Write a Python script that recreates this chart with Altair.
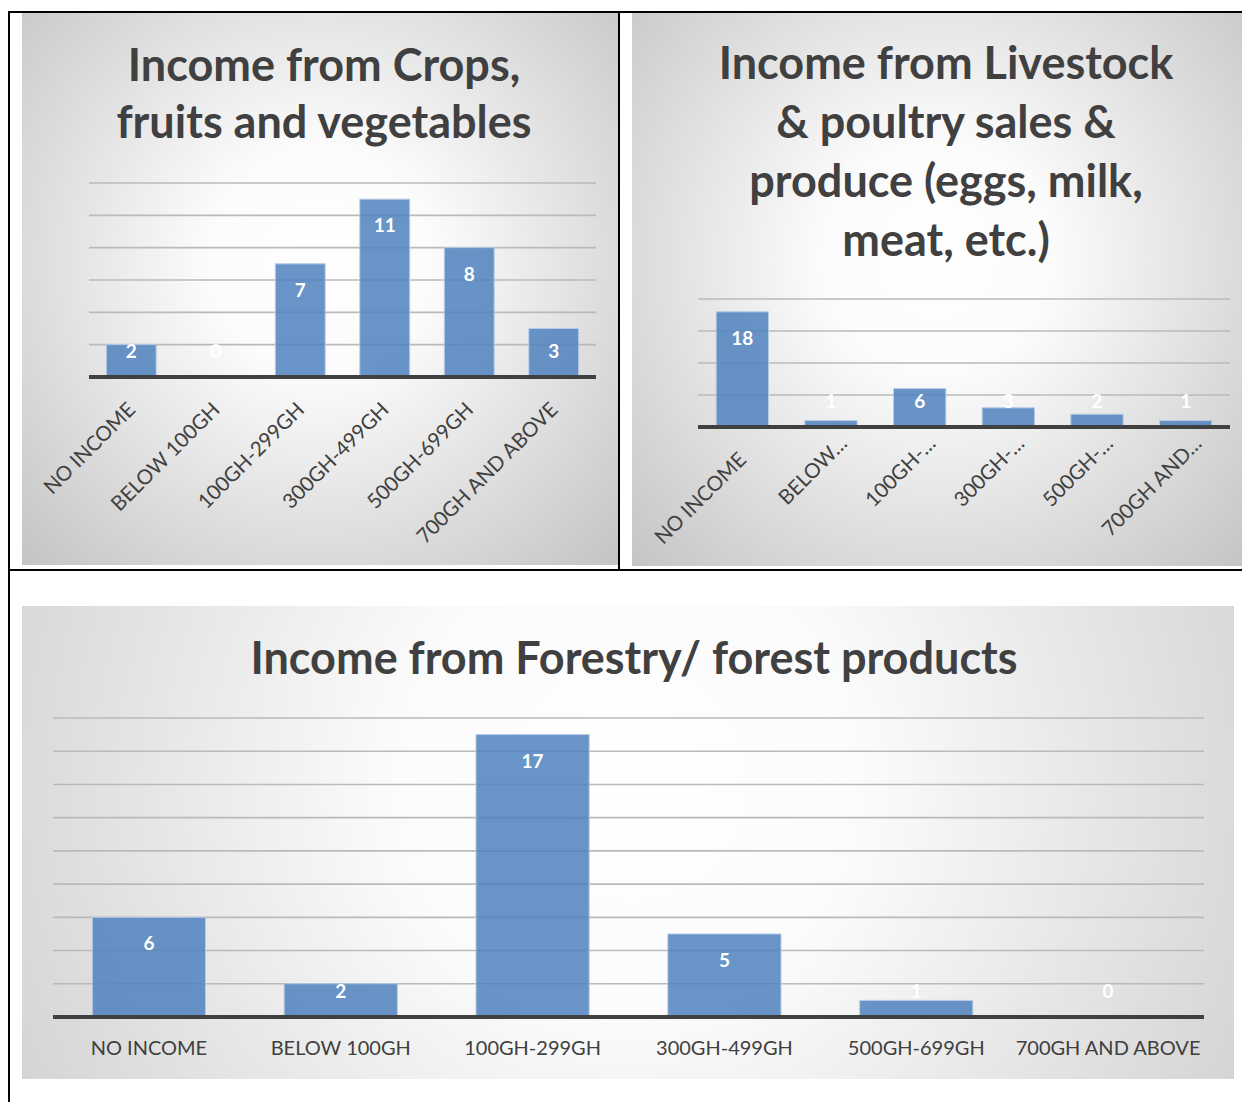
import altair as alt
import pandas as pd

# ---------------- data ----------------
CATEGORIES = ["NO INCOME", "BELOW 100GH", "100GH-299GH", "300GH-499GH",
              "500GH-699GH", "700GH AND ABOVE"]
CROPS_VALUES = [2, 0, 7, 11, 8, 3]
LIVESTOCK_VALUES = [18, 1, 6, 3, 2, 1]
FORESTRY_VALUES = [6, 2, 17, 5, 1, 0]

LIVESTOCK_TICK_LABELS = ["NO INCOME", "BELOW…", "100GH-…", "300GH-…",
                         "500GH-…", "700GH AND…"]

CROPS_GRID = [2, 4, 6, 8, 10, 12]
LIVESTOCK_GRID = [5, 10, 15, 20]
FORESTRY_GRID = [2, 4, 6, 8, 10, 12, 14, 16, 18]

CROPS_TITLE = ["Income from Crops,", "fruits and vegetables"]
LIVESTOCK_TITLE = ["Income from Livestock", "& poultry sales &",
                   "produce (eggs, milk,", "meat, etc.)"]
FORESTRY_TITLE = ["Income from Forestry/ forest products"]

# ---------------- style ----------------
FONT = "Lato"
TEXT = "#404040"
BAR_FILL = "#4F81BD"
GRAD = alt.RadialGradient(
    gradient="radial",
    x1=0.5, y1=0.45, r1=0, x2=0.5, y2=0.45, r2=0.78,
    stops=[alt.GradientStop(offset=0, color="#ffffff"),
           alt.GradientStop(offset=0.25, color="#fbfbfb"),
           alt.GradientStop(offset=1, color="#bdbdbd")],
)
ONE = pd.DataFrame({"z": [0]})


def panel(values, grid, title_lines, ymax, w, h, origin, plot_x, plot_y,
          cell, gray, borders, title_cx, title_y0, title_dy, angle,
          tick_labels=None, lab_pad=22, lab_off=-6):
    """origin: page position of this panel's group origin.
    plot_x / plot_y: page extents of the category band / value range."""
    ox, oy = origin
    df = pd.DataFrame({"cat": CATEGORIES, "val": values})
    gdf = pd.DataFrame({"g": grid})
    k = (plot_y[1] - plot_y[0]) / ymax

    def box(x0, y0, x1, y1, fill):
        return alt.Chart(ONE).mark_rect(fill=fill, strokeWidth=0).encode(
            x=alt.value(x0 - ox), x2=alt.value(x1 - ox),
            y=alt.value(y0 - oy), y2=alt.value(y1 - oy))

    extra = {}
    if tick_labels is not None:
        expr = "datum.value"
        for c, t in zip(CATEGORIES, tick_labels):
            expr = f"datum.value === '{c}' ? '{t}' : (" + expr + ")"
        extra["labelExpr"] = expr
        # truncated labels sit a little further up and right in the original
        test = "datum.value !== '" + CATEGORIES[0] + "'"
        lab_pad = {"condition": {"test": test, "value": lab_pad - 16}, "value": lab_pad}
        lab_off = {"condition": {"test": test, "value": lab_off + 12}, "value": lab_off}

    if angle == 0:
        ax = alt.Axis(title=None, ticks=False, tickSize=0, domain=False,
                      labelAngle=0, labelAlign="center", labelBaseline="top",
                      labelPadding=21, labelFont=FONT, labelFontSize=20,
                      labelColor=TEXT, labelLimit=400, labelOverlap=False,
                      zindex=1, grid=False, **extra)
    else:
        ax = alt.Axis(title=None, ticks=False, tickSize=0, domain=False,
                      labelAngle=angle, labelAlign="right", labelBaseline="top",
                      labelPadding=lab_pad, labelOffset=lab_off, labelFont=FONT,
                      labelFontSize=20.5, labelColor=TEXT, labelLimit=400,
                      labelOverlap=False, zindex=1, grid=False, **extra)

    X = alt.X("cat:N", sort=CATEGORIES, axis=ax,
              scale=alt.Scale(range=[plot_x[0] - ox, plot_x[1] - ox],
                              paddingInner=0.41, paddingOuter=0.205))
    yscale = alt.Scale(domain=[0, ymax], nice=False, zero=True,
                       range=[plot_y[1] - oy, plot_y[0] - oy])

    layers = [box(*cell, "#ffffff"), box(*gray, GRAD)]
    for b in borders:
        layers.append(box(*b, "#000000"))

    layers.append(alt.Chart(gdf).mark_rule(color="#bababa", strokeWidth=1.6).encode(
        x=alt.value(plot_x[0] - ox), x2=alt.value(plot_x[1] - ox),
        y=alt.Y("g:Q", scale=yscale, axis=None)))
    layers.append(alt.Chart(df).mark_bar(
        fill=BAR_FILL, fillOpacity=0.85, stroke="#b7cbe6", strokeWidth=1).encode(
        x=X, y=alt.Y("val:Q", scale=yscale, axis=None)))
    layers.append(alt.Chart(ONE).mark_rule(color="#404040", strokeWidth=4).encode(
        x=alt.value(plot_x[0] - ox), x2=alt.value(plot_x[1] - ox),
        y=alt.Y("z:Q", scale=yscale, axis=None)))
    layers.append(alt.Chart(df).transform_calculate(
        lab=f"max(datum.val - {27 / k:.4f}, {25 / k:.4f})").mark_text(
        font=FONT, fontWeight="bold", fontSize=19, color="#ffffff",
        baseline="middle", align="center").encode(
        x=X, y=alt.Y("lab:Q", scale=yscale, axis=None), text="val:Q"))

    for i, line in enumerate(title_lines):
        layers.append(alt.Chart(ONE).mark_text(
            text=line, font=FONT, fontWeight="bold", fontSize=45, color=TEXT,
            align="center", baseline="alphabetic").encode(
            x=alt.value(title_cx - ox), y=alt.value(title_y0 + i * title_dy - oy)))

    return alt.layer(*layers).properties(width=w, height=h)


# group origins: top row shares y=183, left column shares x=53
crops = panel(CROPS_VALUES, CROPS_GRID, CROPS_TITLE, 12, 543, 194,
              origin=(53, 183), plot_x=(89, 596), plot_y=(183, 377),
              cell=(0, 0, 620, 569), gray=(22, 13, 618, 565),
              borders=[(8, 11, 620, 13), (8, 11, 10, 569), (618, 11, 620, 569)],
              title_cx=324, title_y0=81, title_dy=57, angle=-45)

livestock = panel(LIVESTOCK_VALUES, LIVESTOCK_GRID, LIVESTOCK_TITLE, 20, 532, 244,
                  origin=(698, 183), plot_x=(698, 1230), plot_y=(299, 427),
                  cell=(620, 0, 1242, 569), gray=(632, 13, 1242, 566),
                  borders=[(620, 11, 1242, 13)],
                  title_cx=946, title_y0=79, title_dy=59, angle=-45,
                  tick_labels=LIVESTOCK_TICK_LABELS)

forestry = panel(FORESTRY_VALUES, FORESTRY_GRID, FORESTRY_TITLE, 18, 1151, 299,
                 origin=(53, 718), plot_x=(53, 1204), plot_y=(718, 1017),
                 cell=(0, 569, 1242, 1102), gray=(22, 606, 1234, 1079),
                 borders=[(8, 569, 1242, 571), (8, 569, 10, 1102)],
                 title_cx=634, title_y0=674, title_dy=0, angle=0)

chart = alt.vconcat(
    alt.hconcat(crops, livestock, spacing=0),
    forestry,
    spacing=0,
).properties(padding=0, background="#ffffff").configure_view(strokeWidth=0)

chart.save("out.html", embed_options={"renderer": "svg", "actions": False})
